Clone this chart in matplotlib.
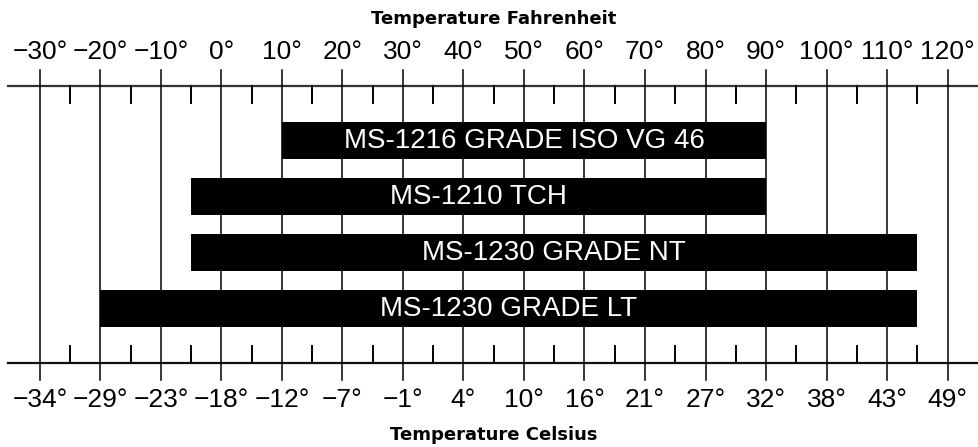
import numpy as np
import matplotlib.pyplot as plt

plt.rcParams['font.family'] = ['Liberation Sans', 'DejaVu Sans']

# Fahrenheit scale and matching (rounded) Celsius labels
f_ticks = list(range(-30, 121, 10))
c_labels = [-34, -29, -23, -18, -12, -7, -1, 4, 10, 16, 21, 27, 32, 38, 43, 49]

# Operating ranges in deg F
products = ["MS-1216 GRADE ISO VG 46", "MS-1210 TCH", "MS-1230 GRADE NT", "MS-1230 GRADE LT"]
low_f = [10, -5, -5, -20]
high_f = [90, 90, 115, 115]

fig = plt.figure(figsize=(9.79, 4.47), dpi=100)
ax = fig.add_axes([0, 0, 1, 1])
# x in deg F, y in pixels from the top
ax.set_xlim(-36.6, 125.2)
ax.set_ylim(447, 0)
ax.axis("off")

top_y, bot_y = 86, 363

# axis lines
ax.plot([-35.3, 125.2], [top_y, top_y], color="#333333", lw=1.6)
ax.plot([-35.3, 125.2], [bot_y, bot_y], color="#111111", lw=1.6)

# full-height lines at every 10 deg, short ticks at the 5s
for f in f_ticks:
    ax.plot([f, f], [70, 380], color="black", lw=1.1)
for f in np.arange(-25, 120, 10):
    ax.plot([f, f], [top_y, 103], color="black", lw=1.4)
    ax.plot([f, f], [346, bot_y], color="black", lw=1.4)

for f, c in zip(f_ticks, c_labels):
    ax.text(f, 52, f"{f}°".replace("-", "\u2212"), ha="center", va="center", fontsize=19)
    ax.text(f, 400, f"{c}°".replace("-", "\u2212"), ha="center", va="center", fontsize=19)

title_font = dict(family="DejaVu Sans", fontweight="bold", fontsize=13)
ax.text(45, 19, "Temperature Fahrenheit", ha="center", va="center", **title_font)
ax.text(45, 435, "Temperature Celsius", ha="center", va="center", **title_font)

# product bars
ys = [140, 196, 252, 308]
widths = [h - l for l, h in zip(low_f, high_f)]
ax.barh(ys, widths, left=low_f, height=37, color="black", zorder=3)
for name, y, l, h in zip(products, ys, low_f, high_f):
    ax.text((l + h) / 2, y + 1, name, ha="center", va="center", color="white", fontsize=20, zorder=4)

plt.savefig("out.png", dpi=100)
